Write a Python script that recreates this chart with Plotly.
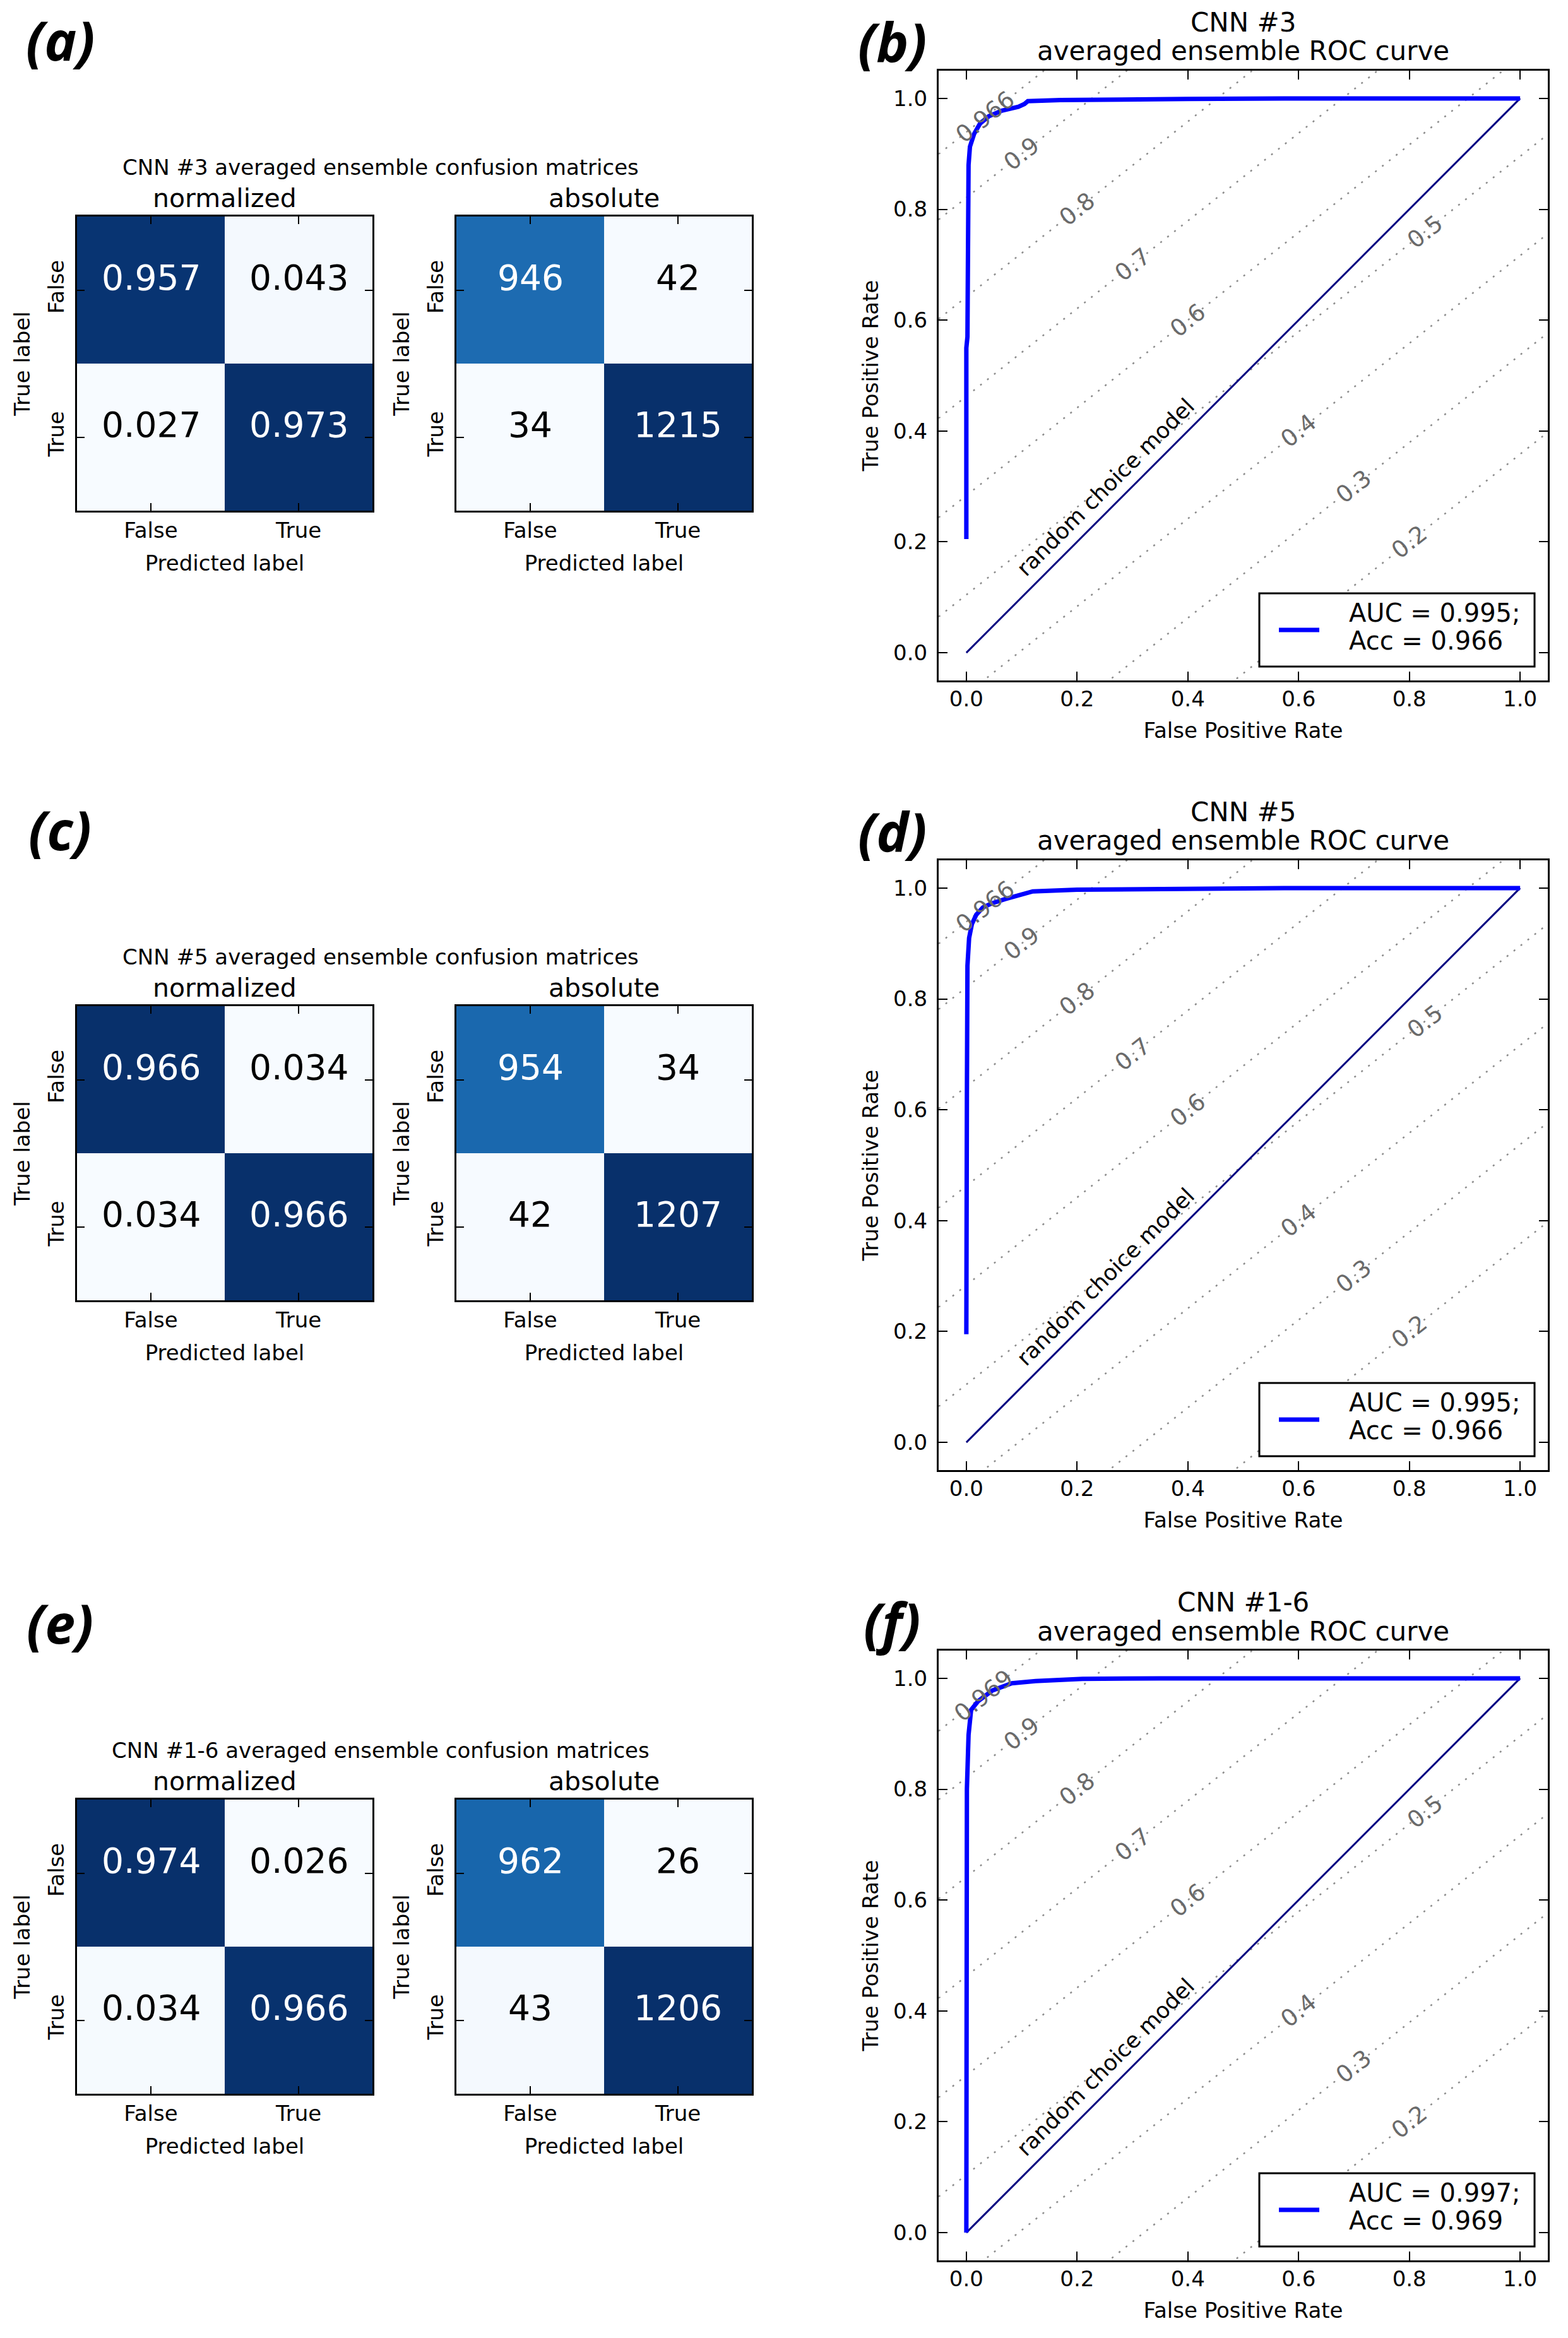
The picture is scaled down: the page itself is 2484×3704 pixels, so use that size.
import math
import plotly.graph_objects as go

W, H = 2484, 3704

# ---------------- data ----------------
class_labels = ["False", "True"]

cm_titles = [
    "CNN #3 averaged ensemble confusion matrices",
    "CNN #5 averaged ensemble confusion matrices",
    "CNN #1-6 averaged ensemble confusion matrices",
]
cm_norm_a = [[0.957, 0.043], [0.027, 0.973]]
cm_abs_a = [[946, 42], [34, 1215]]
cm_norm_c = [[0.966, 0.034], [0.034, 0.966]]
cm_abs_c = [[954, 34], [42, 1207]]
cm_norm_e = [[0.974, 0.026], [0.034, 0.966]]
cm_abs_e = [[962, 26], [43, 1206]]

roc_titles = ["CNN #3", "CNN #5", "CNN #1-6"]
roc_auc = [0.995, 0.995, 0.997]
roc_acc = [0.966, 0.966, 0.969]

fpr_b = [0.0, 0.0, 0.002, 0.002, 0.004, 0.0065, 0.014, 0.025, 0.041, 0.064, 0.094, 0.105, 0.111, 0.17, 0.25, 0.4, 0.6, 1.0]
tpr_b = [0.205, 0.55, 0.57, 0.85, 0.88, 0.913, 0.936, 0.955, 0.968, 0.978, 0.985, 0.99, 0.995, 0.997, 0.998, 0.999, 1.0, 1.0]

fpr_d = [0.0, 0.0, 0.001, 0.002, 0.005, 0.01, 0.018, 0.03, 0.045, 0.07, 0.1, 0.12, 0.2, 0.4, 0.6, 1.0]
tpr_d = [0.195, 0.6, 0.62, 0.86, 0.91, 0.935, 0.952, 0.965, 0.972, 0.98, 0.988, 0.994, 0.997, 0.999, 1.0, 1.0]

fpr_f = [0.0, 0.0, 0.001, 0.004, 0.0086, 0.0215, 0.047, 0.082, 0.125, 0.21, 0.35, 1.0]
tpr_f = [0.0, 0.766, 0.80, 0.898, 0.943, 0.959, 0.978, 0.991, 0.995, 0.999, 1.0, 1.0]

iso_levels = [0.2, 0.3, 0.4, 0.5, 0.6, 0.7, 0.8, 0.9]
roc_ticks = [0.0, 0.2, 0.4, 0.6, 0.8, 1.0]
panel_letters = ["a", "b", "c", "d", "e", "f"]

# ---------------- layout constants (pixels) ----------------
FONT = "DejaVu Sans"
ROW_DY_CM = [0, 1251, 2508]
ROW_DY_ROC = [0, 1251, 2503]
CM_NORM_X = (122, 590)
CM_ABS_X = (723, 1191)
CM_Y = (343, 809)
ROC_X = (1487, 2452)
ROC_Y = (112, 1078)
LEG_BOX = (1995, 2431, 940, 1056)   # x0, x1, y0, y1
LEG_LINE = (2026, 2090, 998)
LEG_TEXT = (2135, 971, 1015)
ISO_LABEL_FPR_OVERRIDE = {0.5: 0.828}

BLUES = ["#f7fbff", "#deebf7", "#c6dbef", "#9ecae1", "#6baed6",
         "#4292c6", "#2171b5", "#08519c", "#08306b"]
blues_scale = [[i / (len(BLUES) - 1), c] for i, c in enumerate(BLUES)]

fig = go.Figure()
annotations = []
shapes = []
axis_count = [0]


def px_x(v):
    return v / W


def px_y(v):
    return 1 - v / H


frame = dict(showline=True, linecolor="black", linewidth=3, mirror="ticks",
             ticks="inside", tickcolor="black", tickwidth=2,
             showgrid=False, zeroline=False, fixedrange=True)


def add_axes(xpx, ypx, xopts, yopts):
    axis_count[0] += 1
    s = "" if axis_count[0] == 1 else str(axis_count[0])
    xa = dict(domain=[px_x(xpx[0]), px_x(xpx[1])], anchor="y" + s, **frame)
    xa.update(xopts)
    ya = dict(domain=[px_y(ypx[1]), px_y(ypx[0])], anchor="x" + s, **frame)
    ya.update(yopts)
    fig.update_layout(**{"xaxis" + s: xa, "yaxis" + s: ya})
    return "x" + s, "y" + s


def text(x, y, s, size, color="black", family=FONT, angle=0, xref="paper", yref="paper",
         xanchor="center", yanchor="middle", xshift=0, yshift=0):
    annotations.append(dict(x=x, y=y, text=s, showarrow=False, xref=xref, yref=yref,
                            xanchor=xanchor, yanchor=yanchor, textangle=angle,
                            xshift=xshift, yshift=yshift,
                            font=dict(size=size, color=color, family=family)))


def tfont(size=34):
    return dict(size=size, family=FONT, color="black")


def confusion(matrix, xpx, ypx, subtitle, fmt):
    flat = [v for row in matrix for v in row]
    zmin, zmax = min(flat), max(flat)
    xopts = dict(range=[-0.5, 1.5], tickvals=[0, 1], ticktext=class_labels, ticklen=12,
                 tickfont=tfont(), ticklabelstandoff=-1,
                 title=dict(text="Predicted label", font=tfont(), standoff=22))
    yopts = dict(range=[1.5, -0.5], tickvals=[0, 1], ticktext=class_labels, ticklen=12,
                 tickangle=-90, tickfont=tfont(), ticklabelstandoff=4,
                 title=dict(text="True label", font=tfont(), standoff=12))
    xr, yr = add_axes(xpx, ypx, xopts, yopts)
    fig.add_trace(go.Heatmap(z=matrix, x=[0, 1], y=[0, 1], colorscale=blues_scale,
                             zmin=zmin, zmax=zmax, showscale=False, hoverinfo="skip",
                             xaxis=xr, yaxis=yr))
    thresh = zmax / 2
    for i, row in enumerate(matrix):
        for j, v in enumerate(row):
            text(j, i, fmt(v), 55, "white" if v > thresh else "black", xref=xr, yref=yr, yshift=20)
    text(px_x((xpx[0] + xpx[1]) / 2), px_y(ypx[0] - 29), subtitle, 41)


def roc(k, fpr, tpr, acc, auc, n_neg, n_pos, dy):
    ypx = (ROC_Y[0] + dy, ROC_Y[1] + dy)
    ticktext = ["%.1f" % t for t in roc_ticks]
    common = dict(range=[-0.05, 1.05], tickvals=roc_ticks, ticktext=ticktext, ticklen=14,
                  tickfont=tfont())
    xopts = dict(common, ticklabelstandoff=-3,
                 title=dict(text="False Positive Rate", font=tfont(), standoff=20))
    yopts = dict(common, ticklabelstandoff=8,
                 title=dict(text="True Positive Rate", font=tfont(), standoff=14))
    xr, yr = add_axes(ROC_X, ypx, xopts, yopts)
    p_frac = n_pos / (n_pos + n_neg)
    n_frac = n_neg / (n_pos + n_neg)
    slope = n_frac / p_frac
    angle = -math.degrees(math.atan(slope))
    levels = iso_levels + [acc]
    for lev in levels:
        xs = [-0.05, 1.05]
        ys = [(lev - n_frac + n_frac * x) / p_frac for x in xs]
        fig.add_trace(go.Scatter(x=xs, y=ys, mode="lines", xaxis=xr, yaxis=yr,
                                 line=dict(color="rgba(120,120,120,0.85)", width=2.5, dash="3px,11px"),
                                 hoverinfo="skip", showlegend=False))
        lx = ISO_LABEL_FPR_OVERRIDE.get(lev, 1 - lev)
        ly = (lev - n_frac + n_frac * lx) / p_frac
        lab = ("%.1f" % lev) if lev in iso_levels else ("%.3f" % lev)
        text(lx, ly, lab, 37, "#6a6a6a", angle=angle, xref=xr, yref=yr)
    fig.add_trace(go.Scatter(x=[0, 1], y=[0, 1], mode="lines", xaxis=xr, yaxis=yr,
                             line=dict(color="#000080", width=3), hoverinfo="skip", showlegend=False))
    text(0.275, 0.275, "random choice model", 35, angle=-45, xref=xr, yref=yr, xshift=-21, yshift=21)
    name = "AUC = %.3f;<br>Acc = %.3f" % (auc, acc)
    fig.add_trace(go.Scatter(x=fpr, y=tpr, mode="lines", xaxis=xr, yaxis=yr,
                             line=dict(color="#0000ff", width=7),
                             name=name, showlegend=False, hoverinfo="skip"))
    # legend box (drawn as layout shapes + text)
    shapes.append(dict(type="rect", xref="paper", yref="paper",
                       x0=px_x(LEG_BOX[0]), x1=px_x(LEG_BOX[1]),
                       y0=px_y(LEG_BOX[3] + dy), y1=px_y(LEG_BOX[2] + dy),
                       line=dict(color="black", width=3), fillcolor="white", layer="above"))
    shapes.append(dict(type="line", xref="paper", yref="paper",
                       x0=px_x(LEG_LINE[0]), x1=px_x(LEG_LINE[1]),
                       y0=px_y(LEG_LINE[2] + dy), y1=px_y(LEG_LINE[2] + dy),
                       line=dict(color="#0000ff", width=7), layer="above"))
    for line_txt, ypos in zip(name.split("<br>"), LEG_TEXT[1:]):
        text(px_x(LEG_TEXT[0]), px_y(ypos + dy), line_txt, 40, xanchor="left")
    cx = px_x((ROC_X[0] + ROC_X[1]) / 2)
    text(cx, px_y(35 + dy), roc_titles[k], 42)
    text(cx, px_y(81 + dy), "averaged ensemble ROC curve", 42)


cm_norms = [cm_norm_a, cm_norm_c, cm_norm_e]
cm_abss = [cm_abs_a, cm_abs_c, cm_abs_e]
roc_fprs = [fpr_b, fpr_d, fpr_f]
roc_tprs = [tpr_b, tpr_d, tpr_f]

for k in range(3):
    dyc = ROW_DY_CM[k]
    ypx = (CM_Y[0] + dyc, CM_Y[1] + dyc)
    confusion(cm_norms[k], CM_NORM_X, ypx, "normalized", lambda v: "%.3f" % v)
    confusion(cm_abss[k], CM_ABS_X, ypx, "absolute", lambda v: "%d" % v)
    text(px_x(603), px_y(265 + dyc), cm_titles[k], 34)
    text(px_x(95), px_y(2 + dyc), "<b><i>(%s)</i></b>" % panel_letters[2 * k], 86,
         family="Open Sans", yanchor="top")

    n_neg = sum(cm_abss[k][0])
    n_pos = sum(cm_abss[k][1])
    dyr = ROW_DY_ROC[k]
    roc(k, roc_fprs[k], roc_tprs[k], roc_acc[k], roc_auc[k], n_neg, n_pos, dyr)
    text(px_x(1413), px_y(5 + dyr), "<b><i>(%s)</i></b>" % panel_letters[2 * k + 1], 86,
         family="Open Sans", yanchor="top")

fig.update_layout(width=W, height=H, margin=dict(l=0, r=0, t=0, b=0),
                  paper_bgcolor="white", plot_bgcolor="white",
                  font=dict(family=FONT, color="black"), showlegend=False,
                  annotations=annotations, shapes=shapes, hovermode=False)

fig.write_html("out.html", config={"displayModeBar": False, "staticPlot": True},
               post_script="document.body.style.margin='0';document.body.style.overflow='hidden';")
